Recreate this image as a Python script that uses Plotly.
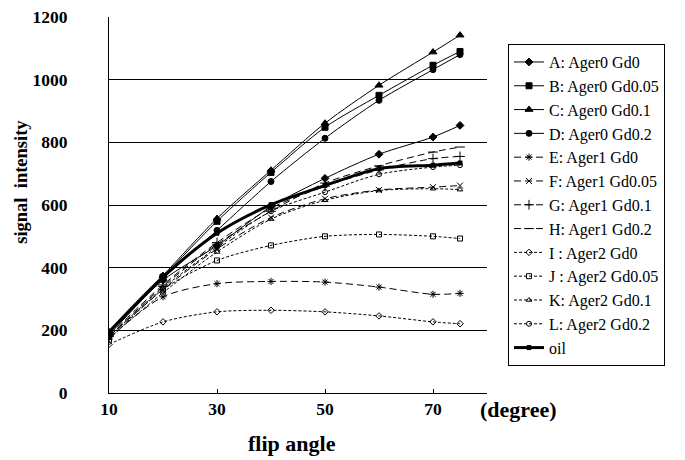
import plotly.graph_objects as go

flip_angle = [10, 20, 30, 40, 50, 60, 70, 75]

series_names = [
    "A: Ager0 Gd0", "B: Ager0 Gd0.05", "C: Ager0 Gd0.1", "D: Ager0 Gd0.2",
    "E: Ager1 Gd0", "F: Ager1 Gd0.05", "G: Ager1 Gd0.1", "H: Ager1 Gd0.2",
    "I : Ager2 Gd0", "J : Ager2 Gd0.05", "K: Ager2 Gd0.1", "L: Ager2 Gd0.2",
    "oil",
]

A = [190, 360, 470, 595, 685, 762, 817, 854]
B = [190, 370, 548, 704, 848, 950, 1046, 1090]
C = [195, 375, 557, 711, 861, 982, 1088, 1142]
D = [185, 365, 519, 675, 813, 934, 1032, 1080]
E = [175, 307, 349, 356, 354, 338, 315, 318]
F = [180, 330, 460, 560, 620, 648, 657, 662]
G = [185, 345, 480, 590, 660, 712, 748, 755]
H = [180, 340, 475, 580, 670, 725, 769, 785]
I = [155, 227, 259, 264, 259, 246, 227, 221]
J = [170, 330, 423, 471, 500, 506, 500, 493]
K = [175, 320, 450, 555, 615, 646, 652, 649]
L = [180, 335, 465, 580, 641, 698, 721, 727]
oil = [195, 370, 510, 601, 662, 716, 727, 734]

values = [A, B, C, D, E, F, G, H, I, J, K, L, oil]

symbols = ["diamond", "square", "triangle-up", "circle",
           "asterisk-open", "x-thin-open", "cross-thin-open", "line-ew-open",
           "diamond-open", "square-open", "triangle-up-open", "circle-open",
           "square"]
dashes = ["solid"] * 4 + ["7px,4px"] * 4 + ["3px,2px"] * 4 + ["solid"]
widths = [1] * 12 + [3]
msizes = [6, 6, 7, 6, 6, 6, 7, 7, 5, 5, 5, 5, 4]

fig = go.Figure()
for name, vals, sym, dash, w, ms in zip(series_names, values, symbols, dashes, widths, msizes):
    fig.add_trace(go.Scatter(
        x=flip_angle, y=vals, name=name, mode="lines+markers",
        line=dict(color="black", width=w, dash=dash, shape="spline", smoothing=0.8),
        marker=dict(symbol=sym, size=ms, color="black",
                    line=dict(color="black", width=1)),
    ))

serif = "Liberation Serif"
fig.update_layout(
    width=685, height=460,
    margin=dict(l=101, r=206, t=9, b=75, autoexpand=False),
    paper_bgcolor="white", plot_bgcolor="white",
    font=dict(family=serif, color="black"),
    showlegend=True,
    legend=dict(x=1.0556, y=0.928, xanchor="left", yanchor="top",
                bordercolor="black", borderwidth=1, bgcolor="white",
                font=dict(family=serif, size=16, color="black"),
                tracegroupgap=0, itemwidth=30),
    xaxis=dict(range=[10, 80], tickvals=[10, 30, 50, 70], automargin=False,
               showgrid=False, showline=True, linecolor="black", linewidth=1,
               ticks="inside", ticklen=4, tickcolor="black",
               tickfont=dict(family=serif, size=17.5, color="black", weight="bold"),
               ticklabeloverflow="allow",
               zeroline=False),
    yaxis=dict(range=[0, 1200], tickvals=[0, 200, 400, 600, 800, 1000, 1200], automargin=False,
               showgrid=True, gridcolor="black", gridwidth=1,
               showline=True, linecolor="black", linewidth=1, ticks="",
               tickfont=dict(family=serif, size=17.5, color="black", weight="bold"),
               ticklabelstandoff=37, ticklabeloverflow="allow",
               zeroline=False),
)
fig.add_annotation(text="<b>signal  intensity</b>", xref="paper", yref="paper",
                   x=-0.2336, y=0.561, xanchor="center", yanchor="middle", textangle=-90,
                   showarrow=False, font=dict(family=serif, size=18.5, color="black"))
fig.add_annotation(text="<b>flip angle</b>", xref="paper", yref="paper",
                   x=0.484, y=-0.133, xanchor="center", yanchor="middle",
                   showarrow=False, font=dict(family=serif, size=22, color="black"))
fig.add_annotation(text="<b>(degree)</b>", xref="paper", yref="paper",
                   x=0.976, y=-0.045, xanchor="left", yanchor="middle", showarrow=False,
                   font=dict(family=serif, size=22, color="black"))

fig.write_html("out.html")
